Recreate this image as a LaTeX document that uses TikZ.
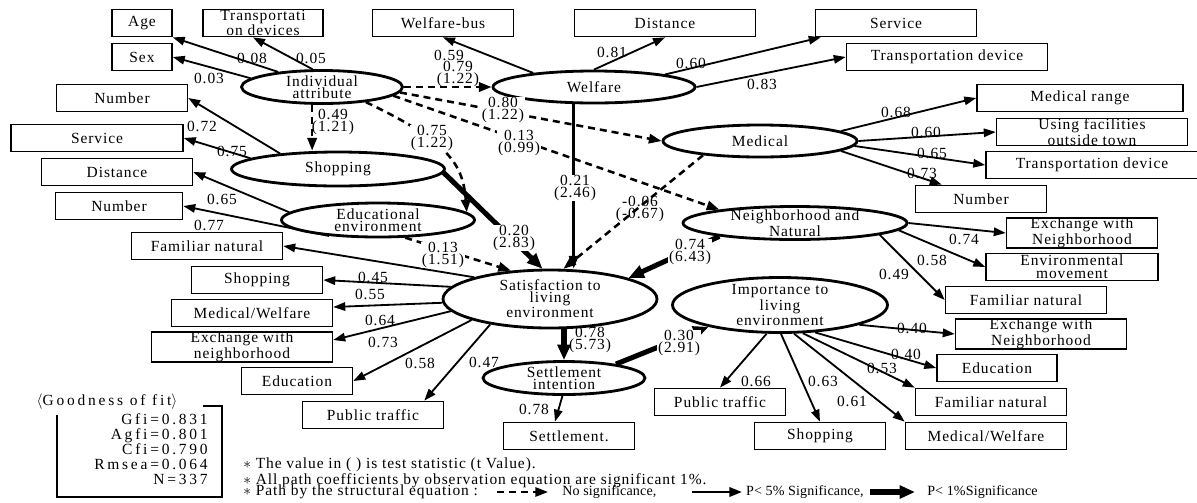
\documentclass[tikz,border=0pt]{standalone}
\usepackage{fontspec}
\setmainfont{Liberation Serif}[LetterSpace=6]
\newfontfamily\gofont{Liberation Serif}[LetterSpace=18]
\newfontfamily\lgfont{Liberation Serif}[LetterSpace=1]
\usetikzlibrary{arrows.meta, shapes.geometric, calc}

\begin{document}
\begin{tikzpicture}[x=0.025cm, y=-0.025cm,
    obs/.style={rectangle, draw, line width=1.1pt, inner sep=0pt, align=center,
        minimum height=0.68cm, minimum width=#1*0.025cm, font=\fontsize{11}{9}\selectfont},
    latent/.style 2 args={ellipse, draw, line width=2pt, inner xsep=0pt, inner ysep=-2pt, align=center,
        minimum width=#1*0.025cm, minimum height=#2*0.025cm, font=\fontsize{11}{8.5}\selectfont},
    obsarr/.style={line width=1.3pt, -{Triangle[length=8.5pt, width=6pt]}},
    nsig/.style={line width=1.8pt, dash pattern=on 5pt off 3.5pt, -{Triangle[length=9pt, width=6.6pt]}},
    sig5/.style={line width=1.8pt, -{Triangle[length=9pt, width=6.6pt]}},
    sig1/.style={line width=3.6pt, -{Triangle[length=11pt, width=9pt]}},
    coef/.style={inner sep=0.5pt, align=center, font=\fontsize{11}{8.2}\selectfont},
    scoef/.style={coef, fill=white},
    note/.style={inner sep=0pt, align=left, font=\fontsize{11}{8.9}\selectfont},
    lgnote/.style={inner sep=0pt, font=\lgfont\fontsize{10}{10}\selectfont}
]
\useasboundingbox (0,0) rectangle (1197,502);

% latent variables
\node[latent={161}{33}] (ia) at (322,87) {Individual\\attribute};
\node[latent={202}{32}] (welfare) at (594,87) {Welfare};
\node[latent={194}{32}] (medical) at (760,141) {Medical};
\node[latent={213}{34}] (shop) at (338,169) {Shopping};
\node[latent={193}{34}] (edu) at (378,220) {Educational\\environment};
\node[latent={224}{33}] (nb) at (795,223) {Neighborhood and\\Natural};
\node[latent={214}{58}] (satis) at (550,299) {Satisfaction to\\living\\environment};
\node[latent={215}{55}] (imp) at (780,305) {Importance to\\living\\environment};
\node[latent={162}{33}] (si) at (564,378) {Settlement\\intention};

% observed variables
\node[obs=60] (age) at (142,23) {Age};
\node[obs=120] (trans) at (263,23) {Transportati\\on devices};
\node[obs=60] (sex) at (142,57) {Sex};
\node[obs=131] (num1) at (122,98) {Number};
\node[obs=172] (serv2) at (97,138) {Service};
\node[obs=151] (dist2) at (117,172) {Distance};
\node[obs=127] (num3) at (119,206) {Number};
\node[obs=151] (fam2) at (207,246) {Familiar natural};
\node[obs=131] (shop1) at (257,280) {Shopping};
\node[obs=161] (mw1) at (252,313) {Medical/Welfare};
\node[obs=181] (exch3) at (242,347) {Exchange with\\neighborhood};
\node[obs=111] (edu1) at (297,381) {Education};
\node[obs=141] (pt1) at (373,415) {Public traffic};
\node[obs=131] (settle) at (569,436) {Settlement.};
\node[obs=131] (pt2) at (720,402) {Public traffic};
\node[obs=131] (shop2) at (820,436) {Shopping};
\node[obs=161] (mw2) at (986,436) {Medical/Welfare};
\node[obs=151] (fam3) at (991,402) {Familiar natural};
\node[obs=120] (edu2) at (997,368) {Education};
\node[obs=171] (exch2) at (1041,334) {Exchange with\\Neighborhood};
\node[obs=161] (fam1) at (1026,300) {Familiar natural};
\node[obs=172] (env) at (1072,267) {Environmental\\movement};
\node[obs=151] (exch1) at (1082,233) {Exchange with\\Neighborhood};
\node[obs=131] (num2) at (981,199) {Number};
\node[obs=212] (td2) at (1092,165) {Transportation device};
\node[obs=191] (usef) at (1092,132) {Using facilities\\outside town};
\node[obs=206] (mrange) at (1080,98) {Medical range};
\node[obs=201] (td1) at (947,57) {Transportation device};
\node[obs=161] (serv1) at (896,23) {Service};
\node[obs=181] (dist1) at (665,23) {Distance};
\node[obs=141] (wbus) at (443,23) {Welfare-bus};

% observation equation
\draw[obsarr] (ia.161) -- (age.south east);
\draw[obsarr] (ia.173) -- (sex.east);
\draw[obsarr] (ia.118) -- ($(trans.south)+(-10,0)$);
\draw[obsarr] (welfare.167) -- (wbus.south);
\draw[obsarr] (welfare.north) -- (dist1.south);
\draw[obsarr] (welfare.10) -- ($(serv1.south west)+(6,0)$);
\draw[obsarr] (welfare.east) -- (td1.west);
\draw[obsarr] (medical.7) -- (mrange.west);
\draw[obsarr] (medical.east) -- (usef.west);
\draw[obsarr] (medical.-3) -- (td2.west);
\draw[obsarr] (medical.-7) -- ($(num2.north west)+(27,0)$);
\draw[obsarr] (shop.165) -- (num1.east);
\draw[obsarr] (shop.173) -- (serv2.east);
\draw[obsarr] (edu.175) -- (dist2.east);
\draw[obsarr] (edu.198) -- (num3.east);
\draw[obsarr] (nb.east) -- (exch1.west);
\draw[obsarr] (nb.-4) -- (env.west);
\draw[obsarr] (nb.-8) -- (fam1.west);
\draw[obsarr] (satis.164) -- (fam2.east);
\draw[obsarr] (satis.173) -- (shop1.east);
\draw[obsarr] (satis.182) -- ($(mw1.east)+(0,-6)$);
\draw[obsarr] (satis.187) -- ($(exch3.east)+(0,-7)$);
\draw[obsarr] (satis.195) -- (edu1.east);
\draw[obsarr] (satis.203) -- ($(pt1.north east)+(-20,0)$);
\draw[obsarr] (si.-95) -- ($(settle.north)+(-14,0)$);
\draw[obsarr] (imp.245) -- (pt2.north);
\draw[obsarr] (imp.-88) -- (shop2.north);
\draw[obsarr] (imp.-64) -- (mw2.north west);
\draw[obsarr] (imp.-51) -- (fam3.north west);
\draw[obsarr] (imp.-38) -- (edu2.west);
\draw[obsarr] (imp.-14) -- (exch2.west);

% structural equation
\draw[nsig] (ia.east) -- (welfare.west);
\draw[nsig] (ia.-4) -- (medical.west);
\draw[nsig] (ia.-7) -- (nb.170);
\draw[nsig] (ia.241) -- (ia.241 |- shop.north);
\draw[nsig] (ia.-19) .. controls (450,142) and (463,165) .. (edu.5);
\draw[sig5] (welfare.220) -- (welfare.220 |- satis.north);
\draw[nsig] (medical.194) -- (satis.66);
\draw[sig1] (shop.-2) -- (satis.104);
\draw[nsig] (edu.-33) -- (satis.144);
\draw[sig1] (nb.190) -- (satis.15);
\draw[sig1] (si.north |- satis.south) -- (si.north);
\draw[sig1] (si.15) -- (imp.197);

% coefficients
\node[coef] (c-age) at (252,58) {0.08};
\node[coef] (c-trans) at (311,58) {0.05};
\node[coef] (c-sex) at (209,78) {0.03};
\node[coef] (c-num1) at (202,126) {0.72};
\node[coef] (c-serv2) at (232,151) {0.75};
\node[coef] (c-wbus) at (449,55) {0.59};
\node[coef] (c-dist1) at (612,52) {0.81};
\node[coef] (c-serv1) at (691,63) {0.60};
\node[coef] (c-td1) at (762,84) {0.83};
\node[coef] (c-mrange) at (896,112) {0.68};
\node[coef] (c-usef) at (926,132) {0.60};
\node[coef] (c-td2) at (932,153) {0.65};
\node[coef] (c-num2) at (922,173) {0.73};
\node[coef] (c-dist2) at (222,199) {0.65};
\node[coef] (c-num3) at (209,225) {0.77};
\node[coef] (c-exch1) at (964,239) {0.74};
\node[coef] (c-env) at (932,260) {0.58};
\node[coef] (c-fam1) at (894,274) {0.49};
\node[coef] (c-shop1) at (373,277) {0.45};
\node[coef] (c-mw1) at (370,294) {0.55};
\node[coef] (c-exch3) at (380,320) {0.64};
\node[coef] (c-edu1) at (383,342) {0.73};
\node[coef] (c-pt1) at (420,363) {0.58};
\node[coef] (c-pt1b) at (484,362) {0.47};
\node[coef] (c-settle) at (534,409) {0.78};
\node[coef] (c-pt2) at (756,381) {0.66};
\node[coef] (c-shop2) at (823,381) {0.63};
\node[coef] (c-mw2) at (852,401) {0.61};
\node[coef] (c-fam3) at (882,368) {0.53};
\node[coef] (c-edu2) at (906,354) {0.40};
\node[coef] (c-exch2) at (912,328) {0.40};

\node[coef] (s-shop) at (333,122) {0.49\\(1.21)};
\node[coef] (s-welfare) at (458,74) {0.79\\(1.22)};
\node[scoef] (s-medical) at (503,110) {0.80\\(1.22)};
\node[scoef] (s-edu) at (432,138) {0.75\\(1.22)};
\node[scoef] (s-nb) at (519,143) {0.13\\(0.99)};
\node[scoef] (s-wsat) at (575,188) {0.21\\(2.46)};
\node[coef] (s-msat) at (640,209) {-0.06\\(-0.67)};
\node[scoef] (s-ssat) at (514,238) {0.20\\(2.83)};
\node[scoef] (s-esat) at (443,255) {0.13\\(1.51)};
\node[scoef] (s-nsat) at (690,252) {0.74\\(6.43)};
\node[coef] (s-settle) at (590,340) {0.78\\(5.73)};
\node[scoef] (s-imp) at (679,343) {0.30\\(2.91)};

% goodness of fit
\node[inner sep=0pt, font=\gofont\fontsize{11}{11}\selectfont] (gof) at (107,402) {$\langle$Goodness of fit$\rangle$};
\node[inner sep=0pt, align=right, anchor=north east, font=\gofont\fontsize{11}{10.7}\selectfont] (gfit) at (208,413)
    {Gfi=0.831\\Agfi=0.801\\Cfi=0.790\\Rmsea=0.064\\N=337};
\draw[line width=1.1pt] (203,406) -- (222,406) -- (222,497) -- (57,497) -- (57,415);

% notes and legend
\node[note, anchor=west] (notes) at (243,473) {$\ast$ The value in ( ) is test statistic (t Value).\\$\ast$ All path coefficients by observation equation are significant 1\%.};
\node[note, anchor=west] (lgA) at (243,492) {$\ast$ Path by the structural equation :};
\node[lgnote, anchor=west] (lgB) at (562,492) {No significance,};
\node[lgnote, anchor=east] (lgC) at (864,492) {P< 5\% Significance,};
\node[lgnote, anchor=west] (lgD) at (927,492) {P< 1\%Significance};
\coordinate (la1) at (497,492);
\coordinate (la2) at (548,492);
\coordinate (lb1) at (692,492);
\coordinate (lb2) at (742,492);
\coordinate (lc1) at (870,492);
\coordinate (lc2) at (915,492);
\draw[nsig, line width=1.4pt] (la1) -- (la2);
\draw[sig5] (lb1) -- (lb2);
\draw[sig1] (lc1) -- (lc2);
\end{tikzpicture}
\end{document}
